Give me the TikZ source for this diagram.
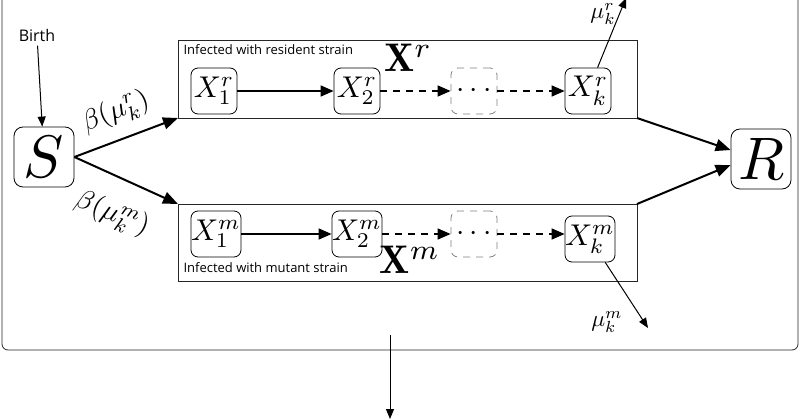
\documentclass[tikz,border=0pt]{standalone}
\usepackage{graphicx}
\usepackage{fontspec}
\setsansfont{Open Sans}
\usetikzlibrary{arrows.meta}
\newcommand{\sz}[2]{\scalebox{#1}{#2}}
\begin{document}
\begin{tikzpicture}[x=1pt,y=-1pt,
  st/.style={draw,line width=0.8pt,rounded corners=7pt,inner sep=0pt,minimum width=46pt,minimum height=46pt},
  big/.style={draw,line width=0.8pt,rounded corners=9pt,minimum width=60pt,minimum height=60pt,inner sep=0pt},
  box/.style={draw,line width=0.8pt,gray!30!black},
  thick arr/.style={line width=2pt,-{Triangle[length=15pt,width=12pt]}},
  mid arr/.style={line width=1.5pt,-{Triangle[length=13pt,width=11pt]}},
  dsh/.style={dash pattern=on 7pt off 6pt},
  thin arr/.style={line width=1pt,-{Triangle[length=10pt,width=8pt]}},
  lab/.style={font=\sffamily\fontsize{13}{14}\selectfont,anchor=west}]
\useasboundingbox (0,0) rectangle (800,419);
\draw[line width=0.8pt,gray!30!black,rounded corners=6pt] (2,-20) -- (2,350) -- (798,350) -- (798,-20);
\draw[box] (178,40) rectangle (637,118);
\draw[box] (178,204) rectangle (637,281);
\coordinate (ul) at (178,118); \coordinate (ll) at (178,204);
\coordinate (ur) at (637,118); \coordinate (lr) at (637,204);
\node[big] (S) at (44,157) {\sz{6}{$S$}};
\node[big] (R) at (761,159) {\sz{6}{$R$}};
\node[lab] at (180,50) {Infected with resident strain};
\node[lab] at (180,268) {Infected with mutant strain};
\node at (408,58) {\sz{4}{$\mathbf{X}^r$}};
\node at (410,260) {\sz{4}{$\mathbf{X}^m$}};
\node[st] (x1r) at (214,91) {\sz{3}{$X_1^r$}};
\node[st] (x2r) at (357,91) {\sz{3}{$X_2^r$}};
\node[st,dsh,gray] (dr) at (474,91) {\color{black}\sz{3}{$\cdots$}};
\node[st] (xkr) at (588,91) {\sz{3}{$X_k^r$}};
\node[st] (x1m) at (216,234) {\sz{3}{$X_1^m$}};
\node[st] (x2m) at (357,234) {\sz{3}{$X_2^m$}};
\node[st,dsh,gray] (dm) at (474,234) {\color{black}\sz{3}{$\cdots$}};
\node[st] (xkm) at (590,239) {\sz{3}{$X_k^m$}};
\draw[mid arr] (x1r) -- (x2r);
\draw[mid arr,dsh] (x2r) -- (dr);
\draw[mid arr,dsh] (dr) -- (xkr);
\draw[mid arr] (x1m) -- (x2m);
\draw[mid arr,dsh] (x2m) -- (dm);
\draw[mid arr,dsh] (dm) -- (dm -| xkm.west);
\draw[thick arr] (S.east) -- (ul);
\draw[thick arr] (S.east) -- (ll);
\draw[thick arr] (ur) -- (R.west |- 0,150);
\draw[thick arr] (lr) -- (R.west |- 0,165);
\node[rotate=22] at (116,112) {\sz{2.8}{$\beta(\mu_k^r)$}};
\node[rotate=-22] at (112,214) {\sz{2.8}{$\beta(\mu_k^m)$}};
\node[font=\sffamily\fontsize{16}{17}\selectfont] (birth) at (37,36) {Birth};
\draw[thin arr] (birth) -- (S);
\coordinate (dr1) at (626,-2);
\draw[thin arr] (xkr) -- (dr1);
\node at (603,14) {\sz{2.3}{$\mu_k^r$}};
\coordinate (dm1) at (648,328);
\draw[thin arr] (xkm) -- (dm1);
\node at (607,322) {\sz{2.3}{$\mu_k^m$}};
\coordinate (top) at (390,335); \coordinate (bot) at (390,419);
\draw[thin arr] (top) -- (bot);
\end{tikzpicture}
\end{document}
